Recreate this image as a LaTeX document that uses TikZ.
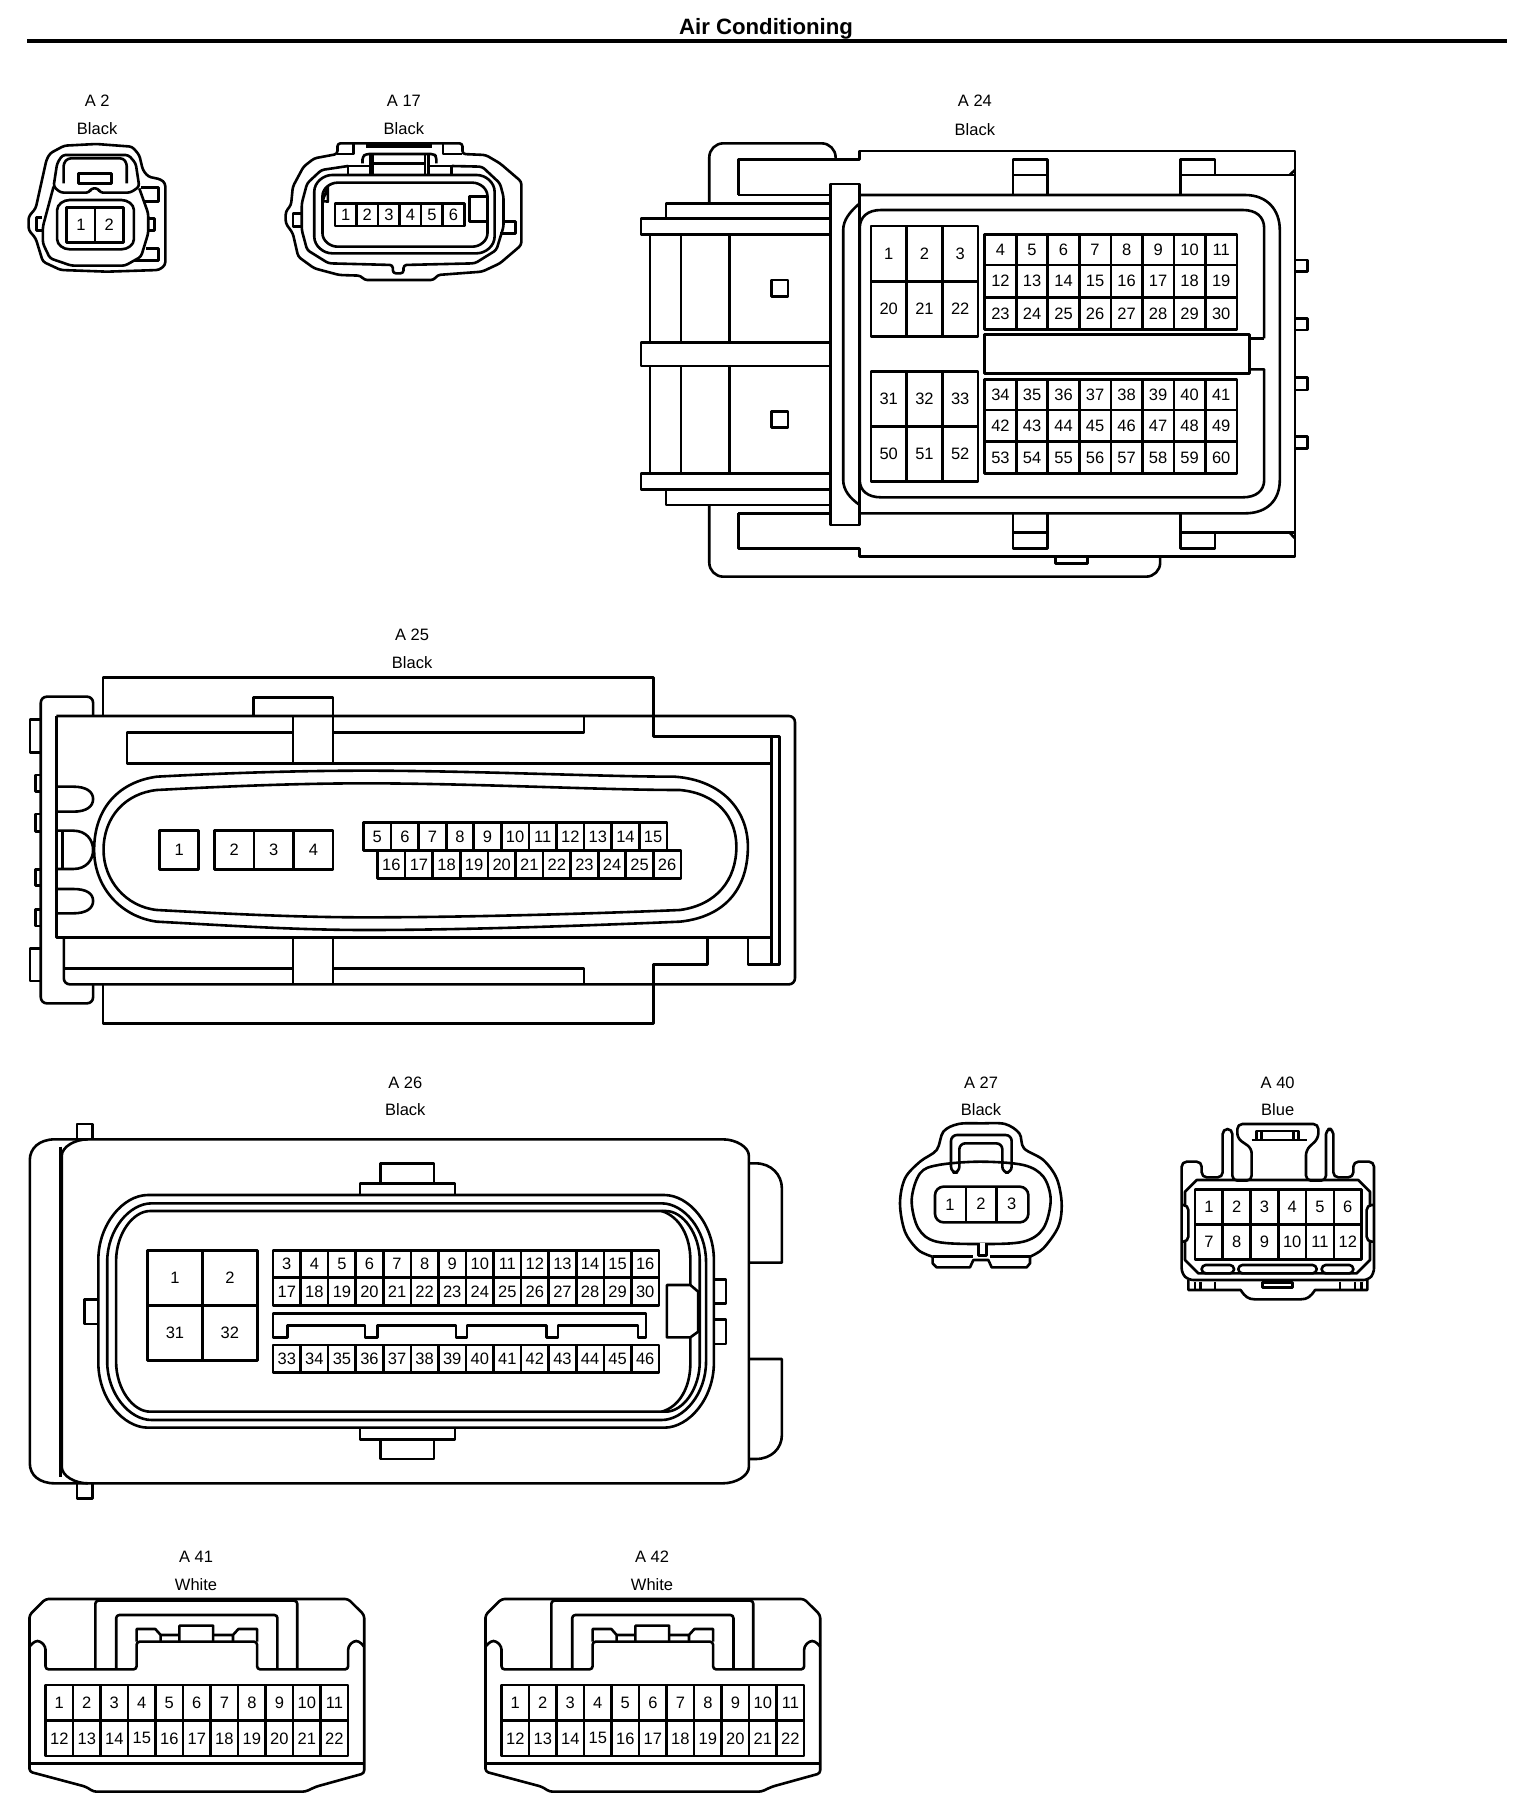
\documentclass[tikz,border=0pt]{standalone}
\usepackage{fontspec}
\setmainfont{Liberation Sans}
\newcommand{\pfont}{\fontsize{16.5}{18}\selectfont}
\newcommand{\pinrow}[7]{% prefix x0 x1 y0 y1 n start
 \pgfmathsetmacro\pw{(#3-#2)/#6}
 \foreach \i in {1,...,#6}{
  \pgfmathsetmacro\xa{#2+(\i-1)*\pw}
  \pgfmathsetmacro\xb{\xa+\pw}
  \pgfmathtruncatemacro\num{#7+\i-1}
  \draw (\xa,#4) rectangle (\xb,#5);
  \node[pinnum] (#1p\num) at ({(\xa+\xb)/2},{(#4+#5)/2}) {\num};
 }}
\newcommand{\ringbox}[6]{\draw ({#1},{#2+#6}) .. controls ({#1},{#2+.45*#6}) and ({#1+.5*#5},{#2}) .. ({#1+#5},{#2}) -- ({#3-#5},{#2}) .. controls ({#3-.5*#5},{#2}) and ({#3},{#2+.45*#6}) .. ({#3},{#2+#6}) -- ({#3},{#4-#6}) .. controls ({#3},{#4-.45*#6}) and ({#3-.5*#5},{#4}) .. ({#3-#5},{#4}) -- ({#1+#5},{#4}) .. controls ({#1+.5*#5},{#4}) and ({#1},{#4-.45*#6}) .. ({#1},{#4-#6}) -- cycle;}
\newcommand{\conlabel}[6]{\node[lab] (#1) at (#2,#3) {#5}; \node[lab] (#1c) at (#2,#4) {#6};}
\begin{document}
\begin{tikzpicture}[x=1pt,y=-1pt,line width=2.6pt,line join=round,
  pinnum/.style={font=\pfont,inner sep=0pt},
  lab/.style={font=\pfont,inner sep=0pt},
  rc/.style={rounded corners=3pt}]
\useasboundingbox (0,0) rectangle (1536,1814);
\fill[white] (0,0) rectangle (1536,1814);
\node[font=\fontsize{22.2}{24}\selectfont\bfseries,inner sep=0pt] (title) at (766,28.5) {Air Conditioning};
\draw[line width=4pt] (27,41) -- (1507,41);

% ---------- A2, A17
\begin{scope}[shift={(0,0)},xscale=1/2.8,yscale=1/3]
\conlabel{A2}{272}{303}{387}{A 2}{Black}
\conlabel{A17}{1131}{303}{387}{A 17}{Black}
\draw[rc] (140,460)--(180,437)--(270,432)--(370,440)--(390,465)--(400,510)--(415,530)--(450,538)--(463,550)--(463,795)--(445,810)--(300,815)--(170,810)--(120,785)--(100,715)--(80,690)--(80,650)--(100,625)--(130,480)--cycle;
\draw[rc] (150,560)--(160,490)--(175,465)--(360,465)--(380,490)--(390,560)--(365,578)--(280,578)--(275,565)--(255,565)--(250,578)--(170,578)--cycle;
\draw[rc] (178,550)--(178,490)--(190,475)--(345,475)--(355,490)--(355,550);
\draw (220,520) rectangle (313,550);
\draw[rc] (150,560)--(120,680)--(120,730)--(140,775)--(200,797)--(350,797)--(395,770)--(415,700)--(415,640)--(390,565);
\ringbox{160}{600}{375}{748}{35}{30}
\pinrow{A2}{187}{345}{622}{727}{2}{1}
\draw (395,562)--(443,562)--(443,605)--(405,605);
\draw (410,745)--(443,745)--(443,782)--(375,782);
\draw (118,652)--(103,652)--(103,692)--(118,692);
\draw (418,655)--(432,655)--(432,692)--(418,692);
% A17
\draw[rc] (945,462)--(945,430)--(1295,430)--(1295,462)--(1360,465)--(1400,490)--(1460,545)--(1460,735)--(1400,790)--(1350,815)--(1225,825)--(1215,840)--(1020,840)--(1010,827)--(950,825)--(880,805)--(835,770)--(820,700)--(800,670)--(800,635)--(815,615)--(820,560)--(850,500)--(880,475)--cycle;
\draw[line width=4.5pt] (1025,436)--(1210,436);
\draw (945,462)--(990,462)--(990,432);
\draw (1240,432)--(1240,462)--(1295,462);
\draw[rc] (1015,490)--(1015,470)--(1025,462)--(1215,462)--(1222,470)--(1222,490);
\draw (1045,462)--(1045,522) (1190,462)--(1190,522) (1038,462)--(1038,522) (1200,462)--(1200,522) (1045,490)--(1190,490);
\draw (975,522)--(975,498)--(1038,498) (1200,498)--(1265,498)--(1265,522);
\draw[rc] (975,498)--(900,510)--(860,550)--(845,610)--(845,690)--(860,750)--(920,790)--(1100,795)--(1100,820)--(1130,820)--(1130,795)--(1330,790)--(1390,750)--(1410,680)--(1410,590)--(1400,550)--(1350,500)--(1265,498);
\draw (1410,665)--(1443,665)--(1443,700)--(1400,700);
\draw (845,640)--(820,640)--(820,680)--(845,680);
\ringbox{880}{525}{1385}{760}{50}{50}
\ringbox{903}{548}{1365}{740}{42}{40}
\draw (903,603)--(918,562)--(918,605)--cycle;
\draw (1365,590)--(1315,590)--(1315,665)--(1365,665);
\pinrow{A17}{938}{1300}{610}{678}{6}{1}
\end{scope}

% ---------- A24
\begin{scope}[shift={(620,80)},xscale=1/2.24,yscale=1/3]
\conlabel{A24}{795}{63}{148}{A 24}{Black}
\draw[rounded corners=14pt] (200,368)--(200,190)--(483,190)--(483,238);
\draw[rounded corners=14pt] (200,1275)--(200,1490)--(1210,1490)--(1210,1430);
\draw (265,345)--(265,238)--(537,238)--(537,213)--(1512,213)--(1512,1430)--(537,1430)--(537,1405)--(265,1405)--(265,1300);
\draw (1500,285)--(1512,270) (1500,1358)--(1512,1375);
\draw (880,345)--(880,238)--(958,238)--(958,345) (880,285)--(958,285);
\draw (1255,345)--(1255,238)--(1333,238)--(1333,285) (1255,285)--(1512,285);
\draw (880,1300)--(880,1405)--(958,1405)--(958,1300) (880,1358)--(958,1358);
\draw (1255,1300)--(1255,1405)--(1333,1405)--(1333,1358) (1255,1358)--(1512,1358);
\draw (975,1430)--(975,1450)--(1047,1450)--(1047,1430);
\foreach \ya/\yb in {540/575,715/750,893/930,1070/1105}{\draw (1512,\ya)--(1540,\ya)--(1540,\yb)--(1512,\yb);}
\draw (472,312) rectangle (537,1335);
\draw (472,370)--(103,370)--(103,415) (103,1228)--(103,1275)--(472,1275) (265,345)--(472,345) (265,1300)--(472,1300);
\draw (472,415)--(47,415)--(47,463)--(472,463);
\draw (472,788)--(47,788)--(47,858)--(472,858);
\draw (472,1180)--(47,1180)--(47,1228)--(472,1228);
\foreach \xv in {67,137,245}{\draw (\xv,463)--(\xv,788) (\xv,858)--(\xv,1180);}
\draw (340,600) rectangle (376,650);
\draw (340,995) rectangle (376,1043);
% body
\draw (537,345)--(1400,345) .. controls (1450,345) and (1478,390) .. (1478,450)--(1478,1200) .. controls (1478,1260) and (1450,1300) .. (1400,1300)--(537,1300);
\draw (537,370) .. controls (515,395) and (500,420) .. (500,450)--(500,1200) .. controls (500,1230) and (515,1255) .. (537,1275);
\draw (1443,775)--(1443,445) .. controls (1443,410) and (1425,390) .. (1395,390)--(585,390) .. controls (555,390) and (537,410) .. (537,445)--(537,1200) .. controls (537,1232) and (555,1252) .. (585,1252)--(1395,1252) .. controls (1425,1252) and (1443,1232) .. (1443,1200)--(1443,868)--(1410,868);
\draw (1443,775)--(1410,775);
\draw (816,763) rectangle (1410,880);
\pinrow{A24}{562}{802}{438}{605}{3}{1}
\pinrow{A24}{562}{802}{605}{770}{3}{20}
\pinrow{A24}{562}{802}{875}{1040}{3}{31}
\pinrow{A24}{562}{802}{1040}{1205}{3}{50}
\pinrow{A24}{817}{1382}{463}{555}{8}{4}
\pinrow{A24}{817}{1382}{555}{652}{8}{12}
\pinrow{A24}{817}{1382}{652}{748}{8}{23}
\pinrow{A24}{817}{1382}{898}{990}{8}{34}
\pinrow{A24}{817}{1382}{990}{1085}{8}{42}
\pinrow{A24}{817}{1382}{1085}{1180}{8}{53}
\end{scope}

% ---------- A25
\begin{scope}[shift={(0,620)},xscale=1/1.912,yscale=1/3]
\conlabel{A25}{788}{45}{127}{A 25}{Black}
\draw (197,288)--(197,172)--(1250,172)--(1250,288);
\draw (485,288)--(485,232)--(637,232)--(637,288);
\draw[rounded corners=6pt] (108,288)--(1520,288)--(1520,1093)--(122,1093)--(122,952);
\draw (108,288)--(108,952)--(1475,952);
\draw (1250,288)--(1250,350)--(1490,350)--(1490,1033)--(1430,1033)--(1430,952);
\draw (1353,952)--(1353,1033)--(1250,1033)--(1250,1093);
\draw (1475,350)--(1475,1033);
\draw (560,338)--(243,338)--(243,430)--(1475,430);
\draw (637,338)--(1117,338)--(1117,288);
\draw (560,288)--(560,430) (637,288)--(637,430) (560,952)--(560,1093) (637,952)--(637,1093);
\draw (122,1045)--(560,1045) (637,1045)--(1117,1045)--(1117,1093);
\draw (197,1093)--(197,1210)--(1250,1210)--(1250,1093);
\draw[rounded corners=6pt] (178,288)--(178,230)--(78,230)--(78,1150)--(178,1150)--(178,1093);
\draw (78,298)--(57,298)--(57,397)--(78,397);
\draw (78,985)--(57,985)--(57,1083)--(78,1083);
\foreach \ya/\yb in {465/515,582/635,748/797,868/918}{\draw (78,\ya)--(68,\ya)--(68,\yb)--(78,\yb);}
\draw (108,500)--(140,500) .. controls (165,500) and (178,515) .. (178,537) .. controls (178,560) and (165,575) .. (140,575)--(108,575);
\draw (108,632)--(140,632) .. controls (165,632) and (178,660) .. (178,690) .. controls (178,720) and (165,747) .. (140,747)--(108,747);
\draw (120,632)--(120,747);
\draw (108,807)--(140,807) .. controls (165,807) and (178,820) .. (178,843) .. controls (178,865) and (165,880) .. (140,880)--(108,880);
\draw (180,690) .. controls (180,560) and (230,485) .. (300,470) .. controls (420,460) and (560,452) .. (700,452) .. controls (900,452) and (1150,470) .. (1290,470) .. controls (1380,480) and (1430,570) .. (1430,680) .. controls (1430,800) and (1390,890) .. (1300,905) .. controls (1150,915) and (900,930) .. (700,930) .. controls (560,930) and (420,915) .. (300,905) .. controls (230,890) and (180,800) .. (180,690) -- cycle;
\draw (198,690) .. controls (198,590) and (240,520) .. (300,510) .. controls (420,500) and (560,490) .. (700,490) .. controls (900,490) and (1150,510) .. (1300,510) .. controls (1370,520) and (1408,590) .. (1408,680) .. controls (1408,780) and (1370,855) .. (1300,870) .. controls (1150,880) and (900,892) .. (700,892) .. controls (560,892) and (420,880) .. (300,870) .. controls (240,860) and (198,780) .. (198,690) -- cycle;
\pinrow{A25}{305}{380}{632}{748}{1}{1}
\pinrow{A25}{410}{637}{632}{748}{3}{2}
\pinrow{A25}{695}{1275}{607}{692}{11}{5}
\pinrow{A25}{722}{1302}{692}{775}{11}{16}
\end{scope}

% ---------- A26
\begin{scope}[shift={(0,1060)},xscale=1/1.912,yscale=1/3]
\conlabel{A26}{775}{67}{150}{A 26}{Black}
\ringbox{118}{238}{1432}{1270}{50}{50}
\draw (116,260)--(116,1250);
\draw (168,238)--(105,238) .. controls (75,238) and (57,265) .. (57,300)--(57,1210) .. controls (57,1245) and (75,1270) .. (105,1270)--(168,1270);
\draw (147,238)--(147,192)--(177,192)--(177,238);
\draw (147,1270)--(147,1315)--(177,1315)--(177,1270);
\draw (1432,310)--(1445,310) .. controls (1475,310) and (1495,345) .. (1495,385)--(1495,608)--(1432,608);
\draw (1432,897)--(1495,897)--(1495,1125) .. controls (1495,1165) and (1475,1197) .. (1445,1197)--(1432,1197);
\draw (727,370)--(727,310)--(830,310)--(830,370) (688,403)--(688,370)--(870,370)--(870,403);
\draw (688,1105)--(688,1138)--(870,1138)--(870,1105) (727,1138)--(727,1197)--(830,1197)--(830,1138);
\ringbox{188}{405}{1365}{1103}{95}{195}
\ringbox{205}{430}{1350}{1080}{85}{175}
\ringbox{222}{453}{1338}{1055}{65}{150}
\draw (1265,453) .. controls (1300,470) and (1320,530) .. (1320,600)--(1320,910) .. controls (1320,980) and (1300,1040) .. (1265,1055);
\draw (190,718)--(162,718)--(162,792)--(190,792);
\draw (1365,658)--(1388,658)--(1388,730)--(1365,730);
\draw (1365,778)--(1388,778)--(1388,852)--(1365,852);
\draw[fill=white] (1275,675)--(1320,675)--(1335,695)--(1335,815)--(1320,832)--(1275,832)--cycle;
\pinrow{A26}{282}{492}{572}{737}{2}{1}
\pinrow{A26}{282}{492}{737}{902}{2}{31}
\pinrow{A26}{522}{1260}{572}{652}{14}{3}
\pinrow{A26}{522}{1260}{652}{737}{14}{17}
\pinrow{A26}{522}{1260}{855}{938}{14}{33}
\draw (522,832)--(522,760)--(1235,760)--(1235,832)--(1220,832)--(1220,797)--(1067,797)--(1067,832)--(1045,832)--(1045,797)--(893,797)--(893,832)--(872,832)--(872,797)--(722,797)--(722,832)--(698,832)--(698,797)--(550,797)--(550,832)--cycle;
\end{scope}

% ---------- A27, A40
\begin{scope}[shift={(880,1060)},xscale=1/3,yscale=1/3]
\conlabel{A27}{303}{67}{150}{A 27}{Black}
\conlabel{A40}{1193}{67}{150}{A 40}{Blue}
\draw plot[smooth,tension=.55] coordinates {(158,590) (115,570) (75,515) (60,430) (75,355) (120,305) (170,270) (190,215) (235,192) (305,190) (375,192) (418,220) (432,265) (490,300) (530,355) (545,430) (535,500) (490,565) (450,590)};
\draw (158,590)--(158,610)--(170,622)--(270,622)--(280,600)--(325,600)--(335,622)--(440,622)--(450,610)--(450,590);
\draw (158,590)--(280,590) (330,590)--(450,590);
\draw plot[smooth cycle,tension=.55] coordinates {(95,420) (120,340) (175,315) (300,305) (430,315) (490,350) (512,420) (490,505) (430,545) (305,552) (170,545) (115,505)};
\draw[white,line width=3pt] (299,552)--(316,552);
\draw (295,552)--(295,587)--(320,587)--(320,552);
\draw[rounded corners=6pt] (213,338)--(213,225)--(395,225)--(395,338)--(367,338)--(367,250)--(238,250)--(238,338)--cycle;
\ringbox{165}{380}{445}{487}{25}{25}
\draw (258,378)--(258,488) (350,378)--(350,488);
\node[pinnum] (A27p1) at (210,435) {1};
\node[pinnum] (A27p2) at (303,432) {2};
\node[pinnum] (A27p3) at (395,432) {3};
% A40
\draw[rounded corners=5pt] (905,640)--(905,305)--(965,305)--(965,352)--(1028,352)--(1028,207)--(1057,207)--(1057,362)--(1115,362)--(1115,265)--(1072,235)--(1072,192)--(1315,192)--(1315,235)--(1278,270)--(1278,362)--(1338,362)--(1338,207)--(1360,207)--(1360,352)--(1420,352)--(1420,305)--(1482,305)--(1482,640)--(1465,660)--(925,660)--cycle;
\draw (1115,240)--(1130,240) (1255,240)--(1280,240);
\draw (1130,213) rectangle (1255,240);
\draw (1145,213)--(1145,240) (1240,213)--(1240,240);
\draw (925,660)--(925,690)--(1082,690) .. controls (1095,710) and (1105,718) .. (1125,718)--(1262,718) .. controls (1282,718) and (1292,710) .. (1305,690)--(1462,690)--(1462,660);
\draw (945,665)--(945,690) (962,665)--(962,690) (1005,665)--(1005,690) (1380,665)--(1380,690) (1425,665)--(1425,690) (1445,665)--(1445,690);
\draw (1148,668) rectangle (1238,682);
\draw (915,435)--(915,395)--(950,360)--(1435,360)--(1470,395)--(1470,435);
\draw (915,545)--(915,600)--(955,640)--(1430,640)--(1470,600)--(1470,545);
\draw[rounded corners=5pt] (905,435)--(925,435)--(925,545)--(905,545);
\draw[rounded corners=5pt] (1482,435)--(1460,435)--(1460,545)--(1482,545);
\ringbox{965}{615}{1062}{640}{12}{12}
\ringbox{1075}{615}{1310}{640}{12}{12}
\ringbox{1325}{615}{1420}{640}{12}{12}
\pinrow{A40}{945}{1445}{388}{493}{6}{1}
\pinrow{A40}{945}{1445}{493}{598}{6}{7}
\end{scope}

% ---------- A41, A42
\foreach \cn/\ox/\ctext in {A41/0/A 41,A42/456/A 42}{
\begin{scope}[shift={(\ox,1530)},xscale=1/1.867,yscale=1/3]
\conlabel{\cn}{366}{80}{163}{\ctext}{White}
\draw[rounded corners=3pt] (55,725)--(55,255)--(85,207)--(650,207)--(680,255)--(680,730)--(590,770)--(570,785)--(175,785)--(160,770)--cycle;
\draw[rounded corners=3pt] (55,350)--(65,333)--(75,333)--(85,350)--(85,418)--(255,418)--(255,335)--(480,335)--(480,418)--(650,418)--(650,350)--(660,333)--(670,333)--(680,350);
\draw[rounded corners=3pt] (178,418)--(178,212)--(555,212)--(555,418);
\draw[rounded corners=3pt] (217,418)--(217,255)--(518,255)--(518,418);
\draw (255,335)--(255,297)--(290,297)--(300,315)--(335,315) (335,335)--(335,287)--(398,287)--(398,335) (300,315)--(300,335);
\draw (398,315)--(435,315)--(445,297)--(480,297)--(480,335) (435,315)--(435,335);
\draw (55,700)--(680,700);
\pinrow{\cn}{85}{650}{465}{572}{11}{1}
\pinrow{\cn}{85}{650}{572}{678}{11}{12}
\end{scope}}
\end{tikzpicture}
\end{document}
